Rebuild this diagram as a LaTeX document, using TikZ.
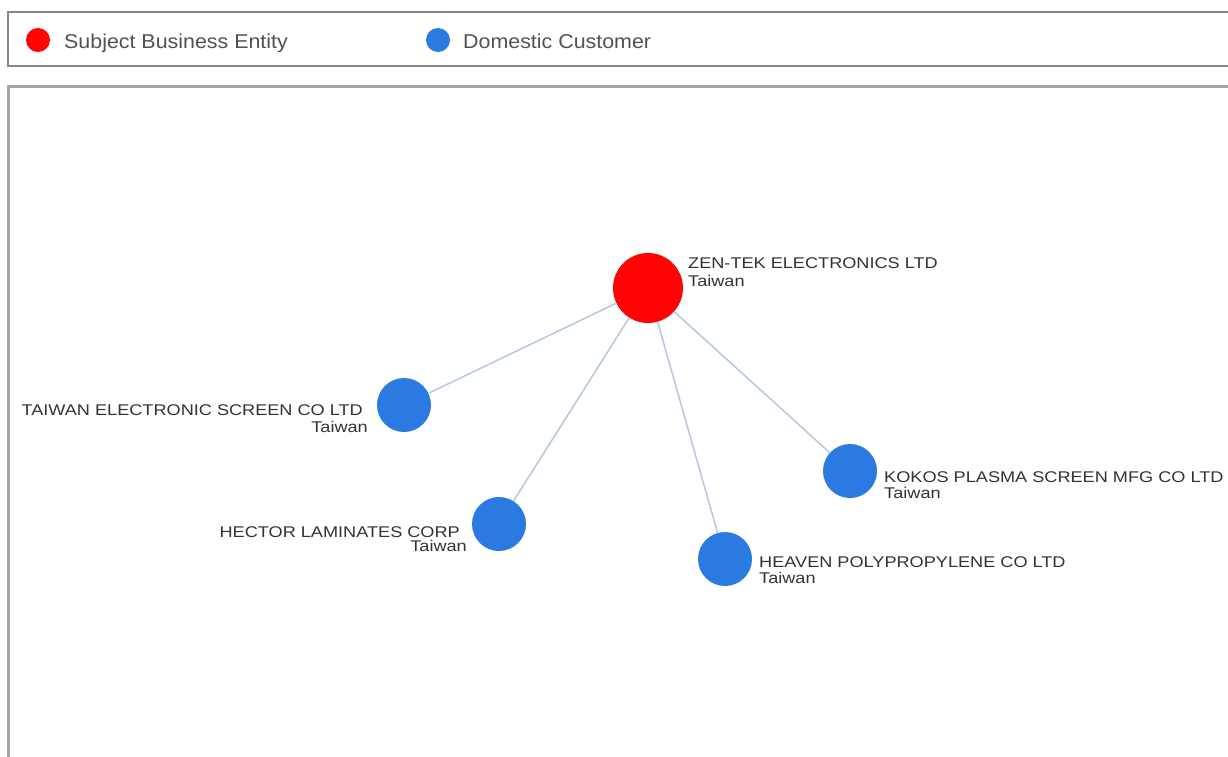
\documentclass[tikz,border=0pt]{standalone}
\usepackage{fontspec}
\setmainfont{Liberation Sans}
\newfontfamily\lblfont[FakeStretch=1.17]{Liberation Sans}
\newfontfamily\keyfont[FakeStretch=1.07]{Liberation Sans}

\definecolor{subjred}{RGB}{255,5,5}
\definecolor{custblue}{RGB}{42,122,226}
\definecolor{linkgray}{RGB}{184,200,220}
\definecolor{framegray}{RGB}{150,150,150}

\tikzset{
    subject/.style={circle, fill=subjred, minimum size=70pt, inner sep=0pt},
    customer/.style={circle, fill=custblue, minimum size=54pt, inner sep=0pt},
    keydot/.style={circle, minimum size=24pt, inner sep=0pt},
    keytext/.style={anchor=base west, inner sep=0pt, text=black!68, font=\keyfont\fontsize{20}{22}\selectfont},
    entlabel/.style={inner sep=0pt, text=black!80, font=\lblfont\fontsize{15.5}{17}\selectfont},
    linkline/.style={draw=linkgray, line width=1.5pt}
}

\begin{document}
\begin{tikzpicture}[x=1pt, y=1pt]
    \useasboundingbox (0,0) rectangle (1228,-756);
    \fill[white] (0,0) rectangle (1228,-756);

    %% Frames
    \draw[framegray!90!black, line width=2pt] (8,-12) rectangle (1240,-66);
    \draw[framegray!85, line width=3pt] (8,-86) rectangle (1240,-770);

    %% Legend
    \node[keydot, fill=subjred] (keyred) at (38,-40) {};
    \node[keytext] (keyredtxt) at (64,-48) {Subject Business Entity};
    \node[keydot, fill=custblue] (keyblue) at (438,-40) {};
    \node[keytext] (keybluetxt) at (463,-48) {Domestic Customer};

    %% Entities
    \node[subject] (zen) at (648,-288) {};
    \node[customer] (screen) at (404,-405) {};
    \node[customer] (hector) at (499,-524) {};
    \node[customer] (heaven) at (725,-559) {};
    \node[customer] (kokos) at (850,-471) {};

    %% Links
    \foreach \c in {screen, hector, heaven, kokos}
        \draw[linkline] (zen) -- (\c);

    %% Names
    \node[entlabel, anchor=base west] (zenname) at (688,-268) {ZEN-TEK ELECTRONICS LTD};
    \node[entlabel, anchor=base west] (zenland) at (688,-286) {Taiwan};
    \node[entlabel, anchor=base east] (screenname) at (363,-415) {TAIWAN ELECTRONIC SCREEN CO LTD};
    \node[entlabel, anchor=base east] (screenland) at (368,-432) {Taiwan};
    \node[entlabel, anchor=base east] (hectorname) at (460,-537) {HECTOR LAMINATES CORP};
    \node[entlabel, anchor=base east] (hectorland) at (467,-551) {Taiwan};
    \node[entlabel, anchor=base west] (heavenname) at (759,-567) {HEAVEN POLYPROPYLENE CO LTD};
    \node[entlabel, anchor=base west] (heavenland) at (759,-583) {Taiwan};
    \node[entlabel, anchor=base west] (kokosname) at (884,-482) {KOKOS PLASMA SCREEN MFG CO LTD};
    \node[entlabel, anchor=base west] (kokosland) at (884,-498) {Taiwan};

\end{tikzpicture}
\end{document}
